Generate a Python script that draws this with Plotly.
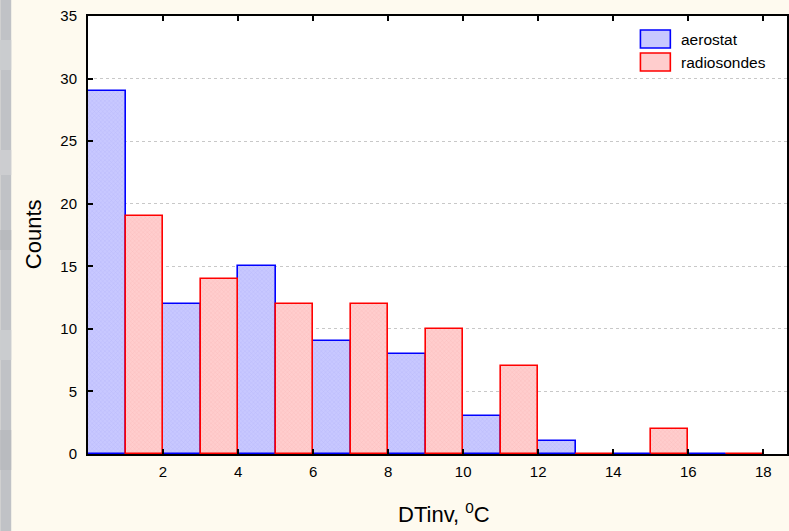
import plotly.graph_objects as go

# Histogram counts of inversion intensity, 1 degree bins
aero_left = [0, 2, 4, 6, 8, 10, 12, 14, 16]
aero_counts = [29, 12, 15, 9, 8, 3, 1, 0, 0]
radio_left = [1, 3, 5, 7, 9, 11, 13, 15, 17]
radio_counts = [19, 14, 12, 12, 10, 7, 0, 2, 0]
bin_width = 1
x_ticks = [2, 4, 6, 8, 10, 12, 14, 16, 18]
y_ticks = [0, 5, 10, 15, 20, 25, 30, 35]

W, H = 789, 531
ML, MR, MT, MB = 88, 0, 16, 77
PW, PH = W - ML - MR, H - MT - MB

FONT = "Arial, Liberation Sans, sans-serif"
BLUE, RED = "rgb(0,0,255)", "rgb(255,0,0)"
BLUE_BG, BLUE_FG = "rgb(200,200,255)", "rgb(165,165,245)"
RED_BG, RED_FG = "rgb(255,205,205)", "rgb(245,170,170)"

fig = go.Figure()


def add_series(lefts, counts, line_col, bg, fg, name):
    centers = [l + bin_width / 2 for l in lefts]
    fig.add_trace(go.Bar(
        x=centers, y=counts, width=bin_width, name=name,
        marker=dict(color=bg, line=dict(color=line_col, width=1.6),
                    pattern=dict(shape="x", size=3, solidity=0.25,
                                 fgcolor=fg, bgcolor=bg)),
        showlegend=False,
    ))
    # empty bins are still outlined along the baseline
    for l, c in zip(lefts, counts):
        if c == 0:
            fig.add_trace(go.Scatter(
                x=[l, l + bin_width], y=[0, 0], mode="lines",
                line=dict(color=line_col, width=1.6),
                showlegend=False, hoverinfo="skip", cliponaxis=False,
            ))


add_series(aero_left, aero_counts, BLUE, BLUE_BG, BLUE_FG, "aerostat")
add_series(radio_left, radio_counts, RED, RED_BG, RED_FG, "radiosondes")


def px_x(p):
    return (p - ML) / PW


def px_y(p):
    return (H - MB - p) / PH


shapes = [
    # grey strip at the left border of the page
    dict(type="rect", xref="paper", yref="paper", layer="below",
         x0=px_x(0), x1=px_x(11), y0=px_y(H), y1=px_y(0),
         fillcolor="rgb(192,194,198)", line=dict(width=0)),
]
# faint streaks in the strip
for top, bot, col in [(40, 70, "rgb(202,204,207)"), (150, 175, "rgb(204,205,208)"),
                      (230, 250, "rgb(184,186,190)"), (330, 360, "rgb(202,204,207)"),
                      (430, 470, "rgb(185,187,191)")]:
    shapes.append(dict(type="rect", xref="paper", yref="paper", layer="below",
                       x0=px_x(0), x1=px_x(11), y0=px_y(bot), y1=px_y(top),
                       fillcolor=col, line=dict(width=0)))

# legend swatches and labels
legend_items = [("aerostat", BLUE, BLUE_BG, 30), ("radiosondes", RED, RED_BG, 53)]
annotations = []
for label, lc, fc, top in legend_items:
    shapes.append(dict(type="rect", xref="paper", yref="paper",
                       x0=px_x(642), x1=px_x(672), y0=px_y(top + 18), y1=px_y(top),
                       fillcolor=fc, line=dict(color=lc, width=1.6)))
    annotations.append(dict(xref="paper", yref="paper", x=px_x(681), y=px_y(top + 9),
                            text=label, showarrow=False, xanchor="left", yanchor="middle",
                            font=dict(family=FONT, size=15.5, color="black")))

annotations.append(dict(xref="paper", yref="paper", x=px_x(445), y=px_y(513),
                        text="DTinv, <sup>0</sup>C", showarrow=False,
                        xanchor="center", yanchor="middle",
                        font=dict(family=FONT, size=22, color="black")))
annotations.append(dict(xref="paper", yref="paper", x=px_x(33), y=px_y(234),
                        text="Counts", showarrow=False, textangle=-90,
                        xanchor="center", yanchor="middle",
                        font=dict(family=FONT, size=22, color="black")))

fig.update_layout(
    width=W, height=H,
    margin=dict(l=ML, r=MR, t=MT, b=MB, pad=0),
    paper_bgcolor="rgb(254,250,239)",
    plot_bgcolor="white",
    barmode="overlay",
    bargap=0,
    font=dict(family=FONT, size=15, color="black"),
    shapes=shapes,
    annotations=annotations,
    xaxis=dict(range=[0, PW / 37.625], tickvals=x_ticks, ticks="inside", ticklen=5,
               tickwidth=1.5, tickcolor="black", showline=True, linecolor="black",
               linewidth=2, mirror="ticks", showgrid=False, zeroline=False,
               tickfont=dict(family=FONT, size=15), ticklabelstandoff=3),
    yaxis=dict(range=[0, 35], tickvals=y_ticks, ticks="inside", ticklen=5,
               tickwidth=1.5, tickcolor="black", showline=True, linecolor="black",
               linewidth=2, mirror=True, showgrid=True, gridcolor="rgb(200,200,200)",
               griddash="dot", gridwidth=1, zeroline=False,
               tickfont=dict(family=FONT, size=15), ticklabelstandoff=6),
)

fig.write_html("out.html")
